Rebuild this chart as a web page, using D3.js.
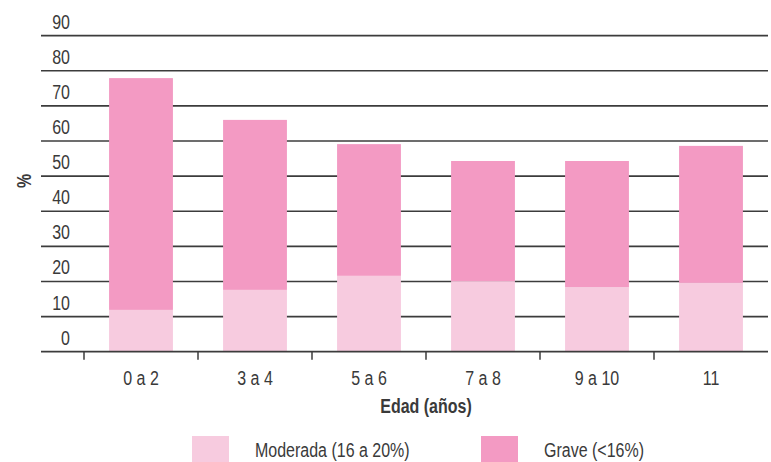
<!DOCTYPE html>
<html><head><meta charset="utf-8">
<script src="https://cdn.jsdelivr.net/npm/d3@7"></script>
<style>
body{margin:0;background:#fff;}
svg{display:block;}
text{font-family:"Liberation Sans Narrow","Liberation Sans",Arial,sans-serif;fill:#3a3a3a;}
</style></head>
<body>
<svg id="c" width="771" height="462"></svg>
<script>
const categories = ["0 a 2","3 a 4","5 a 6","7 a 8","9 a 10","11"];
const moderada = [11.9, 17.6, 21.6, 20.1, 18.4, 19.6];
const grave = [66.0, 48.4, 37.5, 34.2, 35.9, 39.0];
const yTicks = [0,10,20,30,40,50,60,70,80,90];
const seriesNames = ["Moderada (16 a 20%)","Grave (<16%)"];
const colors = ["#f7cbdf","#f39ac3"];

const svg = d3.select("#c");
const x = d3.scaleBand().domain(categories).range([84,768]).paddingInner(0.44).paddingOuter(0.22);
const y = d3.scaleLinear().domain([0,90]).range([351.7,35.6]);
const SX = 0.82;
function narrow(sel, px, py){
  return sel.attr("transform", (d,i)=>`translate(${typeof px==="function"?px(d,i):px},${typeof py==="function"?py(d,i):py}) scale(${SX},1)`);
}

// gridlines
svg.append("g").selectAll("line").data(yTicks.filter(d=>d>0)).join("line")
  .attr("x1",41).attr("x2",768).attr("y1",d=>y(d)).attr("y2",d=>y(d))
  .attr("stroke","#3c3c3c").attr("stroke-width",1.6);

// y labels
narrow(svg.append("g").selectAll("text").data(yTicks).join("text"), 70, d=>y(d)-7)
  .attr("text-anchor","end").attr("font-size",19.5).text(d=>d);

// bars
const stackData = categories.map((c,i)=>({cat:c, m:moderada[i], g:grave[i]}));
const stack = d3.stack().keys(["m","g"])(stackData);
svg.append("g").selectAll("g").data(stack).join("g")
  .attr("fill",(d,i)=>colors[i])
  .selectAll("rect").data(d=>d).join("rect")
  .attr("x",d=>x(d.data.cat)).attr("width",x.bandwidth())
  .attr("y",d=>y(d[1])).attr("height",d=>y(d[0])-y(d[1]));

// x axis
const xAxisLine = d3.scaleLinear().domain([0,categories.length]).range([84,768]);
svg.append("line").attr("x1",41).attr("x2",768).attr("y1",y(0)).attr("y2",y(0))
  .attr("stroke","#3c3c3c").attr("stroke-width",1.8);
svg.append("g").selectAll("line").data(d3.range(categories.length)).join("line")
  .attr("x1",d=>xAxisLine(d)).attr("x2",d=>xAxisLine(d))
  .attr("y1",y(0)).attr("y2",y(0)+8).attr("stroke","#3c3c3c").attr("stroke-width",1.5);
narrow(svg.append("g").selectAll("text").data(categories).join("text"), d=>x(d)+x.bandwidth()/2, 385)
  .attr("text-anchor","middle").attr("font-size",19.5).text(d=>d);

// axis titles
narrow(svg.append("text"), 426, 413).attr("text-anchor","middle")
  .attr("font-size",19.5).attr("font-weight","bold").attr("fill","#333").text("Edad (años)");
svg.append("text").attr("transform",`translate(31,181) rotate(-90) scale(${SX},1)`).attr("text-anchor","middle")
  .attr("font-size",19.5).attr("font-weight","bold").attr("fill","#333").text("%");

// legend
const lx = [192,481];
seriesNames.forEach((n,i)=>{
  svg.append("rect").attr("x",lx[i]).attr("y",436).attr("width",37).attr("height",26).attr("fill",colors[i]);
  narrow(svg.append("text"), lx[i]+63, 456.5).attr("font-size",19.5).text(n);
});
</script>
</body></html>
